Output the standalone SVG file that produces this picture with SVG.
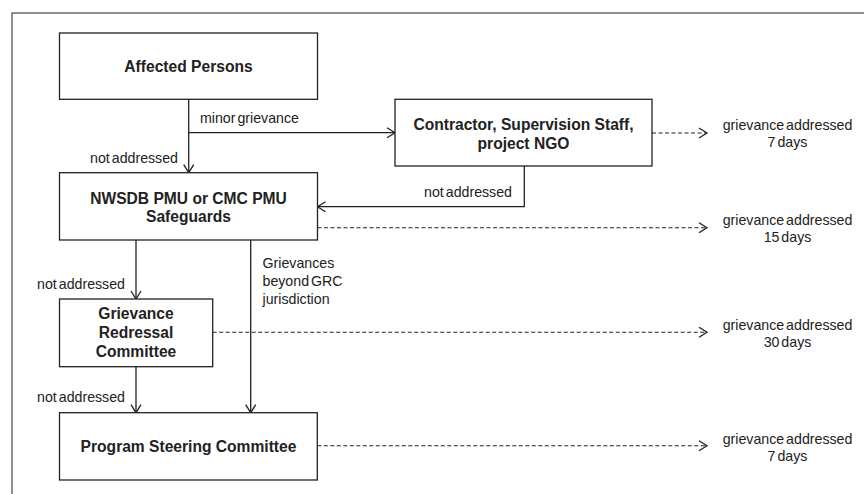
<svg xmlns="http://www.w3.org/2000/svg" width="864" height="494" viewBox="0 0 864 494">
<defs>
<style>
.frame{fill:none;stroke:#555;stroke-width:1.3}
.box{fill:#fff;stroke:#222;stroke-width:1.3}
.b{font-family:"Liberation Sans",Arial,sans-serif;font-weight:bold;font-size:15.6px;fill:#222;text-anchor:middle}
.l{font-family:"Liberation Sans",Arial,sans-serif;font-size:14.2px;fill:#222;word-spacing:-2px}
.c{text-anchor:middle}
.e{text-anchor:end}
.ln{fill:none;stroke:#222;stroke-width:1.3;marker-end:url(#ah)}
.dl{fill:none;stroke:#222;stroke-width:1.1;stroke-dasharray:4 2.5;marker-end:url(#ah)}
</style>
<marker id="ah" markerUnits="userSpaceOnUse" markerWidth="12" markerHeight="12" refX="9" refY="6" orient="auto">
<path d="M1,1 L9,6 L1,11" fill="none" stroke="#222" stroke-width="1.3"/>
</marker>
</defs>
<rect class="frame" x="12" y="13" width="900" height="500"/>
<g id="connectors">
<line class="ln" x1="188.7" y1="99.3" x2="188.7" y2="172.7"/>
<line class="ln" x1="188.7" y1="132.7" x2="395" y2="132.7"/>
<polyline class="ln" points="524.3,166 524.3,206.7 317.5,206.7"/>
<line class="ln" x1="136" y1="240" x2="136" y2="299"/>
<line class="ln" x1="136" y1="366.7" x2="136" y2="412.7"/>
<line class="ln" x1="250.7" y1="240" x2="250.7" y2="412.7"/>
<line class="dl" x1="652" y1="133" x2="707" y2="133"/>
<line class="dl" x1="317.5" y1="227.7" x2="707" y2="227.7"/>
<line class="dl" x1="212.7" y1="332.3" x2="707" y2="332.3"/>
<line class="dl" x1="317.3" y1="445.7" x2="707" y2="445.7"/>
<text class="l" x="200" y="123">minor grievance</text>
<text class="l e" x="178" y="163">not addressed</text>
<text class="l e" x="512" y="197">not addressed</text>
<text class="l e" x="125" y="289">not addressed</text>
<text class="l e" x="125" y="402">not addressed</text>
<text class="l" x="262.5" y="268">Grievances</text>
<text class="l" x="262.5" y="286">beyond GRC</text>
<text class="l" x="262.5" y="303.5">jurisdiction</text>
</g>
<g id="affected">
<rect class="box" x="59.5" y="33" width="258" height="66.3"/>
<text class="b" x="188.5" y="72">Affected Persons</text>
</g>
<g id="contractor">
<rect class="box" x="395" y="99.3" width="257" height="66.7"/>
<text class="b" x="523.5" y="130">Contractor, Supervision Staff,</text>
<text class="b" x="523.5" y="148.5">project NGO</text>
</g>
<g id="nwsdb">
<rect class="box" x="59.5" y="172.7" width="258" height="67.3"/>
<text class="b" x="188.5" y="203.5">NWSDB PMU or CMC PMU</text>
<text class="b" x="188.5" y="222">Safeguards</text>
</g>
<g id="grc">
<rect class="box" x="59.5" y="299" width="153.2" height="67.7"/>
<text class="b" x="136" y="319">Grievance</text>
<text class="b" x="136" y="338">Redressal</text>
<text class="b" x="136" y="356.5">Committee</text>
</g>
<g id="psc">
<rect class="box" x="59.5" y="412.7" width="257.8" height="67.3"/>
<text class="b" x="188.5" y="452">Program Steering Committee</text>
</g>
<g id="outcomes">
<text class="l c" x="787.5" y="129.5">grievance addressed</text>
<text class="l c" x="787.5" y="147">7 days</text>
<text class="l c" x="787.5" y="224.5">grievance addressed</text>
<text class="l c" x="787.5" y="241.5">15 days</text>
<text class="l c" x="787.5" y="329.5">grievance addressed</text>
<text class="l c" x="787.5" y="346.5">30 days</text>
<text class="l c" x="787.5" y="443.5">grievance addressed</text>
<text class="l c" x="787.5" y="460.5">7 days</text>
</g>
</svg>
